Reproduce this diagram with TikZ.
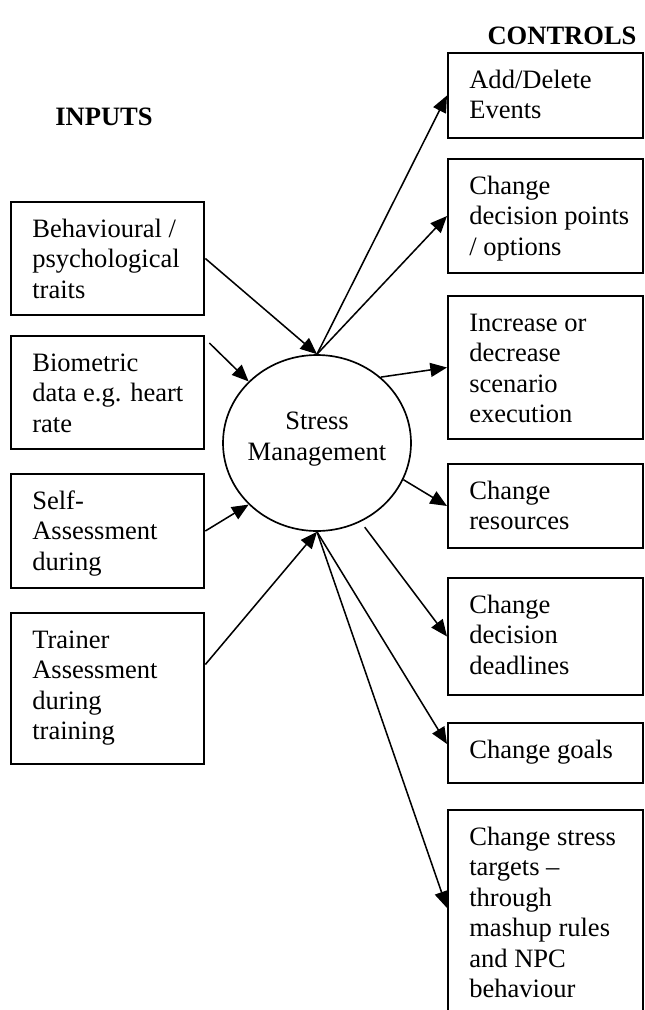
\documentclass[tikz,border=0pt]{standalone}
\usepackage{fontspec}
\setmainfont{Liberation Serif}
\usepackage{tikz}
\usetikzlibrary{arrows.meta,calc,positioning,shapes.geometric}

% box text: fixed height, lines set from the top
\newcommand{\boxtext}[3][145pt]{%
  \parbox[c][#2][t]{#1}{\raggedright\leftskip=16pt\rule{0pt}{26.25pt}#3}}

\begin{document}
\begin{tikzpicture}[
  x=0.75pt, y=-0.75pt,
  font=\fontsize{19.9}{22.9}\selectfont,
  inbox/.style={draw, line width=1.5pt, anchor=north west, inner sep=0pt},
  ctrl/.style={inbox},
  hub/.style={draw, ellipse, line width=1.25pt, minimum width=141pt, minimum height=132pt, inner sep=0pt},
  head/.style={font=\fontsize{19.9}{22.9}\selectfont\bfseries, anchor=base},
  arrow/.style={-{Triangle[length=12.5pt,width=10.5pt]}, line width=1.15pt},
]
\useasboundingbox (0,0) rectangle (644,1010);
\clip (0,0) rectangle (644,1010);

%% ---- Headings ----
\node[head] (inputs)   at (104,125) {INPUTS};
\node[head] (controls) at (562,44)  {CONTROLS};

%% ---- Inputs (left column) ----
\node[inbox] (beh)     at (10,201) {\boxtext{84.75pt}{Behavioural /\\psychological\\traits}};
\node[inbox] (bio)     at (10,335) {\boxtext{84.75pt}{Biometric\\data e.g. heart\\rate}};
\node[inbox] (self)    at (10,473) {\boxtext{85.5pt}{Self-\\Assessment\\during}};
\node[inbox] (trainer) at (10,612) {\boxtext{113.25pt}{Trainer\\Assessment\\during\\training}};

%% ---- Stress management hub ----
\node[hub, label={[align=center, yshift=3pt]center:Stress\\Management}] (hub) at (317,443) {};

%% ---- Controls (right column) ----
\node[ctrl] (addel)   at (447,52)  {\boxtext[146.25pt]{63.75pt}{Add/Delete\\Events}};
\node[ctrl] (points)  at (447,158) {\boxtext[146.25pt]{85.5pt}{Change\\decision points\\/ options}};
\node[ctrl] (pace)    at (447,295) {\boxtext[146.25pt]{107.25pt}{Increase or\\decrease\\scenario\\execution}};
\node[ctrl] (res)     at (447,463) {\boxtext[146.25pt]{63pt}{Change\\resources}};
\node[ctrl] (dead)    at (447,577) {\boxtext[146.25pt]{87.75pt}{Change\\decision\\deadlines}};
\node[ctrl] (goals)   at (447,722) {\boxtext[146.25pt]{45pt}{Change goals}};
\node[ctrl] (targets) at (447,809) {\boxtext[146.25pt]{166pt}{Change stress\\targets --\\through\\mashup rules\\and NPC\\behaviour}};

%% ---- Inputs to hub ----
\draw[arrow] (beh.east) -- (hub.north);
\draw[arrow] ($(bio.north east)+(4,8)$) -- (hub.138);
\draw[arrow] (self.east) -- (hub.222);
\draw[arrow] ($(trainer.east)+(0,-24)$) -- (hub.south);

%% ---- Hub to controls ----
\draw[arrow] (hub.north) -- (addel.west);
\draw[arrow] (hub.north) -- (points.west);
\draw[arrow] (hub.46) -- (pace.west);
\draw[arrow] (hub.-23.5) -- (res.west);
\draw[arrow, shorten <=5pt] (hub.-61.5) -- (dead.west);
\draw[arrow] (hub.south) -- ($(goals.west)+(0,-9)$);
\draw[arrow] (hub.south) -- ($(targets.north west)+(0,99)$);

\end{tikzpicture}
\end{document}
